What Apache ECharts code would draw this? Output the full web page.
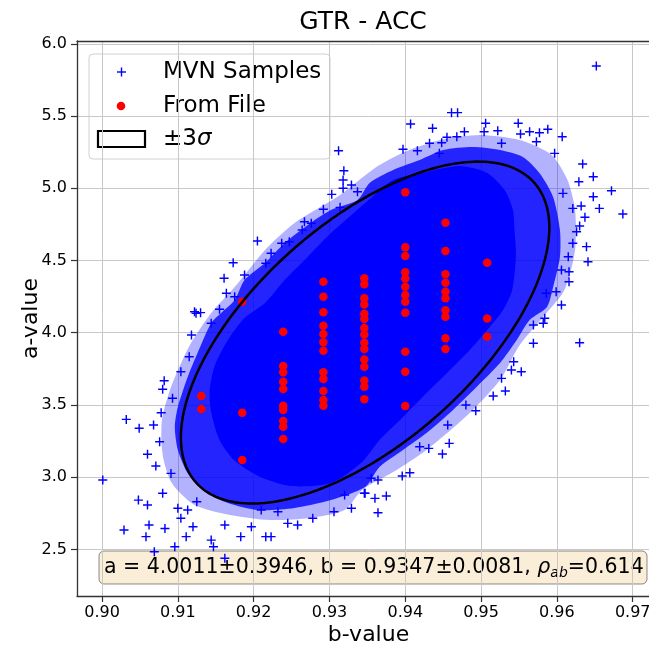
<!DOCTYPE html>
<html>
<head>
<meta charset="utf-8">
<script src="https://cdn.jsdelivr.net/npm/echarts@6/dist/echarts.min.js"></script>
<style>
  html, body { margin: 0; padding: 0; background: #ffffff; overflow: hidden; width: 649px; height: 651px; }
  #chart { width: 680px; height: 651px; }
</style>
</head>
<body>
<div id="chart"></div>
<script>
// Axis ticks
const bTicks = [0.90, 0.91, 0.92, 0.93, 0.94, 0.95, 0.96, 0.97];
const aTicks = [2.5, 3.0, 3.5, 4.0, 4.5, 5.0, 5.5, 6.0];

// Fitted statistics of the MVN distribution
const meanA = 4.0011, sdA = 0.3946;
const meanB = 0.9347, sdB = 0.0081;
const rhoAB = 0.614;

// Outline of the region completely covered by MVN samples [b, a]
const denseCore = [
  [0.9355, 4.933], [0.9302, 4.690], [0.9271, 4.524], [0.9241, 4.365], [0.9215, 4.206],
  [0.9188, 4.102], [0.9166, 3.949], [0.9149, 3.776], [0.9142, 3.603], [0.9144, 3.451],
  [0.9155, 3.257], [0.9174, 3.118], [0.9206, 3.008], [0.9249, 2.938], [0.9302, 2.959],
  [0.9343, 3.105], [0.9366, 3.257], [0.9397, 3.416], [0.9428, 3.582], [0.9455, 3.721],
  [0.9485, 3.880], [0.9508, 4.019], [0.9529, 4.157], [0.9541, 4.296], [0.9546, 4.538],
  [0.9544, 4.711], [0.9542, 4.850], [0.9531, 4.988], [0.9508, 5.106], [0.9472, 5.154],
  [0.9428, 5.113], [0.9384, 5.057]
];

// Outline of the heavily covered band of samples around the core [b, a]
const denseFringe = [
  [0.9337, 4.919], [0.9302, 4.850], [0.9275, 4.760], [0.9241, 4.621], [0.9215, 4.483],
  [0.9188, 4.365], [0.9175, 4.226], [0.9157, 4.136], [0.9144, 4.067], [0.9126, 3.859],
  [0.9113, 3.693], [0.9100, 3.485], [0.9096, 3.347], [0.9100, 3.188], [0.9113, 3.028],
  [0.9136, 2.897], [0.9166, 2.821], [0.9206, 2.772], [0.9254, 2.786], [0.9302, 2.841],
  [0.9347, 2.931], [0.9366, 3.070], [0.9397, 3.188], [0.9428, 3.305], [0.9463, 3.465],
  [0.9494, 3.624], [0.9525, 3.790], [0.9547, 3.949], [0.9564, 4.088], [0.9587, 4.178],
  [0.9595, 4.316], [0.9604, 4.524], [0.9604, 4.711], [0.9595, 4.940], [0.9577, 5.106],
  [0.9555, 5.217], [0.9525, 5.265], [0.9489, 5.286], [0.9450, 5.265], [0.9419, 5.196],
  [0.9384, 5.127], [0.9353, 5.037]
];

// Outline of the thinly covered outer band of samples [b, a]
const sparseHalo = [
  [0.9314, 4.954], [0.9254, 4.760], [0.9215, 4.573], [0.9175, 4.316], [0.9144, 4.136],
  [0.9116, 3.915], [0.9092, 3.638], [0.9079, 3.395], [0.9080, 3.153], [0.9092, 2.959],
  [0.9122, 2.807], [0.9169, 2.738], [0.9221, 2.703], [0.9274, 2.717], [0.9320, 2.772],
  [0.9343, 2.911], [0.9384, 3.035], [0.9428, 3.188], [0.9485, 3.444], [0.9525, 3.672],
  [0.9551, 3.915], [0.9584, 4.123], [0.9610, 4.296], [0.9624, 4.573], [0.9624, 4.850],
  [0.9614, 5.057], [0.9593, 5.231], [0.9551, 5.334], [0.9498, 5.369], [0.9446, 5.334],
  [0.9399, 5.251], [0.9360, 5.141]
];

// Individual MVN samples outside the dense cloud [b, a]
const mvnOutliers = [
  [0.9312, 5.260], [0.9319, 5.122], [0.9318, 5.057], [0.9329, 5.023], [0.9318, 5.000],
  [0.9303, 4.958], [0.9337, 4.976], [0.9292, 4.855], [0.9314, 4.868], [0.9267, 4.769],
  [0.9276, 4.758], [0.9264, 4.711], [0.9205, 4.635], [0.9237, 4.619], [0.9247, 4.630],
  [0.9223, 4.550], [0.9216, 4.481], [0.9173, 4.485], [0.9188, 4.400], [0.9161, 4.377],
  [0.9175, 4.249], [0.9164, 4.273], [0.9155, 4.162], [0.9122, 4.145], [0.9130, 4.139],
  [0.9124, 4.134], [0.9144, 4.065], [0.9118, 3.984], [0.9115, 3.834], [0.9104, 3.730],
  [0.9082, 3.668], [0.9080, 3.608], [0.9093, 3.546], [0.9078, 3.446], [0.9032, 3.400],
  [0.9049, 3.338], [0.9068, 3.361], [0.9076, 3.245], [0.9060, 3.158], [0.9071, 3.077],
  [0.9091, 3.026], [0.9001, 2.980], [0.9080, 2.888], [0.9048, 2.841], [0.9060, 2.807],
  [0.9100, 2.784], [0.9113, 2.772], [0.9125, 2.830], [0.9104, 2.715], [0.9120, 2.657],
  [0.9062, 2.668], [0.9029, 2.634], [0.9058, 2.588], [0.9083, 2.645], [0.9111, 2.588],
  [0.9096, 2.518], [0.9147, 2.518], [0.9144, 2.564], [0.9162, 2.668], [0.9183, 2.588],
  [0.9197, 2.657], [0.9216, 2.588], [0.9223, 2.588], [0.9069, 2.483], [0.9162, 2.438],
  [0.9245, 2.680], [0.9258, 2.668], [0.9278, 2.715], [0.9306, 2.760], [0.9320, 2.876],
  [0.9329, 2.784], [0.9346, 2.888], [0.9232, 2.760], [0.9210, 2.772],
  [0.9630, 3.931], [0.9584, 4.100], [0.9582, 4.065], [0.9569, 4.053], [0.9569, 3.927],
  [0.9553, 3.730], [0.9540, 3.742], [0.9543, 3.799], [0.9532, 3.596], [0.9516, 3.562],
  [0.9527, 3.684], [0.9493, 3.460], [0.9480, 3.499], [0.9458, 3.234], [0.9449, 3.160],
  [0.9431, 3.199], [0.9419, 3.211], [0.9406, 3.030], [0.9396, 3.008], [0.9375, 2.869],
  [0.9360, 2.853], [0.9347, 2.888], [0.9364, 2.753], [0.9355, 2.992], [0.9364, 2.980],
  [0.9456, 3.361],
  [0.9461, 5.524], [0.9469, 5.524], [0.9407, 5.445], [0.9436, 5.416], [0.9506, 5.450],
  [0.9549, 5.450], [0.9588, 5.409], [0.9607, 5.357], [0.9577, 5.385], [0.9564, 5.392],
  [0.9552, 5.376], [0.9522, 5.399], [0.9504, 5.392], [0.9478, 5.392], [0.9468, 5.357],
  [0.9455, 5.353], [0.9448, 5.316], [0.9432, 5.312], [0.9397, 5.270], [0.9416, 5.260],
  [0.9445, 5.242], [0.9527, 5.312], [0.9573, 5.323], [0.9634, 5.168], [0.9648, 5.080],
  [0.9629, 5.046], [0.9672, 4.983], [0.9648, 4.942], [0.9687, 4.822], [0.9656, 4.861],
  [0.9632, 4.877], [0.9637, 4.799], [0.9630, 4.739], [0.9639, 4.596], [0.9641, 4.492],
  [0.9621, 4.619], [0.9615, 4.526], [0.9616, 4.422], [0.9606, 4.434], [0.9606, 4.192],
  [0.9616, 4.353], [0.9599, 4.284], [0.9586, 4.273], [0.9621, 4.861], [0.9608, 4.965],
  [0.9597, 5.242], [0.9626, 4.699], [0.9652, 5.847]
];

// Measured points read from file [b, a]
const fromFile = [
  [0.9131, 3.562], [0.9131, 3.472],
  [0.9185, 4.215], [0.9185, 3.446], [0.9185, 3.118],
  [0.9239, 4.007], [0.9239, 3.769], [0.9239, 3.726], [0.9239, 3.661], [0.9239, 3.610],
  [0.9239, 3.495], [0.9239, 3.465], [0.9239, 3.389], [0.9239, 3.349], [0.9239, 3.264],
  [0.9292, 4.353], [0.9292, 4.249], [0.9292, 4.141], [0.9292, 4.049], [0.9292, 3.991],
  [0.9292, 3.934], [0.9292, 3.875], [0.9292, 3.726], [0.9292, 3.680], [0.9292, 3.596],
  [0.9292, 3.534], [0.9292, 3.495],
  [0.9346, 4.377], [0.9346, 4.335], [0.9346, 4.238], [0.9346, 4.195], [0.9346, 4.131],
  [0.9346, 4.095], [0.9346, 4.033], [0.9346, 3.987], [0.9346, 3.931], [0.9346, 3.887],
  [0.9346, 3.814], [0.9346, 3.765], [0.9346, 3.670], [0.9346, 3.626], [0.9346, 3.540],
  [0.9400, 4.972], [0.9400, 4.591], [0.9400, 4.531], [0.9400, 4.418], [0.9400, 4.375],
  [0.9400, 4.319], [0.9400, 4.261], [0.9400, 4.215], [0.9400, 4.139], [0.9400, 3.868],
  [0.9400, 3.730], [0.9400, 3.492],
  [0.9453, 4.762], [0.9453, 4.566], [0.9453, 4.405], [0.9453, 4.346], [0.9453, 4.284],
  [0.9453, 4.238], [0.9453, 4.155], [0.9453, 4.111], [0.9453, 3.961], [0.9453, 3.887],
  [0.9508, 4.485], [0.9508, 4.099], [0.9508, 3.972]
];

// +/-3 sigma ellipse of the fitted distribution
function sigmaEllipse(k, n) {
  const pts = [];
  const s = Math.sqrt(1 - rhoAB * rhoAB);
  for (let i = 0; i <= n; i++) {
    const t = (2 * Math.PI * i) / n;
    pts.push([
      meanB + k * sdB * Math.cos(t),
      meanA + k * sdA * (rhoAB * Math.cos(t) + s * Math.sin(t))
    ]);
  }
  return pts;
}

const FONT = 'DejaVu Sans';
const PLUS = 'path://M0,42 L100,42 L100,58 L0,58 Z M42,0 L58,0 L58,100 L42,100 Z';
const B_MIN = 0.8967, B_MAX = 0.9736;

function polygonSeries(points, fill, z) {
  return {
    type: 'custom',
    z: z,
    silent: true,
    data: [0],
    renderItem: function (params, api) {
      return {
        type: 'polygon',
        shape: { points: points.map(function (p) { return api.coord(p); }), smooth: 0.25 },
        style: { fill: fill }
      };
    }
  };
}

const chart = echarts.init(document.getElementById('chart'), null, { renderer: 'canvas' });

const option = {
  backgroundColor: '#ffffff',
  animation: false,
  grid: {
    left: 77, top: 41, width: 583, height: 555,
    outerBoundsMode: 'none',
    containLabel: false,
    show: false
  },
  xAxis: [
    {
      type: 'value',
      min: B_MIN,
      max: B_MAX,
      name: 'b-value',
      nameLocation: 'middle',
      nameGap: 28,
      nameMoveOverlap: false,
      nameTextStyle: { fontFamily: FONT, fontSize: 22, color: '#000' },
      axisLine: { show: true, onZero: false, lineStyle: { color: '#333', width: 1.3 } },
      axisTick: { show: true, length: 6, customValues: bTicks, lineStyle: { color: '#333', width: 1.2 } },
      axisLabel: {
        customValues: bTicks, margin: 9,
        fontFamily: FONT, fontSize: 16, color: '#000',
        formatter: function (v) { return v.toFixed(2); }
      },
      splitLine: { show: true, lineStyle: { color: '#c8c8c8', width: 1 } }
    },
    {
      // top frame line of the plot box
      type: 'value',
      position: 'top',
      min: B_MIN,
      max: B_MAX,
      axisLine: { show: true, onZero: false, lineStyle: { color: '#333', width: 1.3 } },
      axisTick: { show: false },
      axisLabel: { show: false },
      splitLine: { show: false }
    }
  ],
  yAxis: {
    type: 'value',
    min: 2.177,
    max: 6.02,
    name: 'a-value',
    nameLocation: 'middle',
    nameGap: 35,
    nameMoveOverlap: false,
    nameTextStyle: { fontFamily: FONT, fontSize: 22, color: '#000' },
    axisLine: { show: true, onZero: false, lineStyle: { color: '#333', width: 1.3 } },
    axisTick: { show: true, length: 6, customValues: aTicks, lineStyle: { color: '#333', width: 1.2 } },
    axisLabel: {
      customValues: aTicks, margin: 10,
      fontFamily: FONT, fontSize: 16, color: '#000',
      formatter: function (v) { return v.toFixed(1); }
    },
    splitLine: { show: true, lineStyle: { color: '#c8c8c8', width: 1 } }
  },
  series: [
    polygonSeries(sparseHalo, 'rgba(0,0,255,0.3)', 1),
    polygonSeries(denseFringe, 'rgba(0,0,255,0.8)', 1),
    polygonSeries(denseCore, '#0000ff', 2),
    {
      name: 'MVN Samples',
      type: 'scatter',
      z: 3,
      symbol: PLUS,
      symbolSize: 9,
      itemStyle: { color: '#0000ff', opacity: 1 },
      data: mvnOutliers
    },
    {
      name: 'From File',
      type: 'scatter',
      z: 4,
      symbol: 'circle',
      symbolSize: 8.5,
      itemStyle: { color: '#ff0000', opacity: 1 },
      data: fromFile
    },
    {
      name: '±3σ',
      type: 'line',
      z: 5,
      showSymbol: false,
      smooth: false,
      lineStyle: { color: '#000000', width: 2.5 },
      data: sigmaEllipse(3, 240)
    }
  ],
  graphic: [
    {
      type: 'text', x: 363, y: 22, z: 100,
      style: {
        text: 'GTR - ACC', fontFamily: FONT, fontSize: 25, fill: '#000',
        align: 'center', verticalAlign: 'middle'
      }
    },
    {
      type: 'group',
      x: 89,
      y: 54,
      z: 100,
      children: [
        {
          type: 'rect',
          shape: { x: 0, y: 0, width: 241, height: 105, r: 4 },
          style: { fill: 'rgba(255,255,255,0.85)', stroke: '#d0d0d0', lineWidth: 1 }
        },
        {
          type: 'rect',
          shape: { x: 28, y: 17.3, width: 9, height: 1.4 },
          style: { fill: '#0000ff' }
        },
        {
          type: 'rect',
          shape: { x: 31.8, y: 13.5, width: 1.4, height: 9 },
          style: { fill: '#0000ff' }
        },
        {
          type: 'text', x: 74, y: 18,
          style: { text: 'MVN Samples', fontFamily: FONT, fontSize: 23, fill: '#000', verticalAlign: 'middle' }
        },
        {
          type: 'circle',
          shape: { cx: 32, cy: 52, r: 4.3 },
          style: { fill: '#ff0000' }
        },
        {
          type: 'text', x: 74, y: 52,
          style: { text: 'From File', fontFamily: FONT, fontSize: 23, fill: '#000', verticalAlign: 'middle' }
        },
        {
          type: 'rect',
          shape: { x: 9, y: 77, width: 47, height: 16 },
          style: { fill: '#ffffff', stroke: '#000000', lineWidth: 2.2 }
        },
        {
          type: 'text', x: 74, y: 85,
          style: {
            text: '±3{i|σ}', fontFamily: FONT, fontSize: 23, fill: '#000', verticalAlign: 'middle',
            rich: { i: { fontFamily: FONT, fontSize: 23, fontStyle: 'italic', fill: '#000' } }
          }
        }
      ]
    },
    {
      type: 'group',
      x: 99,
      y: 551,
      z: 100,
      children: [
        {
          type: 'rect',
          shape: { x: 0, y: 0, width: 548, height: 33, r: 5 },
          style: { fill: 'rgba(245,222,179,0.5)', stroke: 'rgba(0,0,0,0.45)', lineWidth: 1 }
        },
        {
          type: 'text', x: 5, y: 17,
          style: {
            text: 'a = 4.0011±0.3946, b = 0.9347±0.0081, {i|ρ}{s|ab}=0.614',
            fontFamily: FONT, fontSize: 20.5, fill: '#000', verticalAlign: 'middle',
            rich: {
              i: { fontFamily: FONT, fontSize: 20.5, fontStyle: 'italic', fill: '#000' },
              s: { fontFamily: FONT, fontSize: 14, fontStyle: 'italic', fill: '#000', padding: [10, 0, 0, 0] }
            }
          }
        }
      ]
    }
  ]
};

chart.setOption(option);
</script>
</body>
</html>
